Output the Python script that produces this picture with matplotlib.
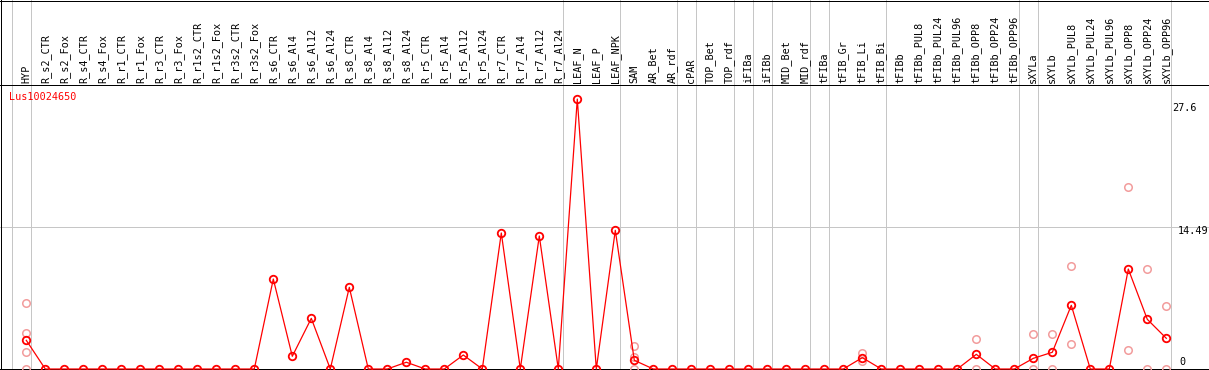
import matplotlib
matplotlib.use("Agg")
import matplotlib.pyplot as plt
from matplotlib.lines import Line2D
import numpy as np

# ---------------- data ----------------
samples = ["HYP", "R_s2_CTR", "R_s2_Fox", "R_s4_CTR", "R_s4_Fox", "R_r1_CTR", "R_r1_Fox",
           "R_r3_CTR", "R_r3_Fox", "R_r1s2_CTR", "R_r1s2_Fox", "R_r3s2_CTR", "R_r3s2_Fox",
           "R_s6_CTR", "R_s6_Al4", "R_s6_Al12", "R_s6_Al24", "R_s8_CTR", "R_s8_Al4",
           "R_s8_Al12", "R_s8_Al24", "R_r5_CTR", "R_r5_Al4", "R_r5_Al12", "R_r5_Al24",
           "R_r7_CTR", "R_r7_Al4", "R_r7_Al12", "R_r7_Al24", "LEAF_N", "LEAF_P", "LEAF_NPK",
           "SAM", "AR_Bet", "AR_rdf", "cPAR", "TOP_Bet", "TOP_rdf", "iFIBa", "iFIBb",
           "MID_Bet", "MID_rdf", "tFIBa", "tFIB_Gr", "tFIB_Li", "tFIB_Bi", "tFIBb",
           "tFIBb_PUL8", "tFIBb_PUL24", "tFIBb_PUL96", "tFIBb_OPP8", "tFIBb_OPP24",
           "tFIBb_OPP96", "sXYLa", "sXYLb", "sXYLb_PUL8", "sXYLb_PUL24", "sXYLb_PUL96",
           "sXYLb_OPP8", "sXYLb_OPP24", "sXYLb_OPP96"]

group_sizes = [1, 28, 3, 3, 1, 2, 1, 1, 2, 1, 3, 7, 1, 7]

mean_expr = [2.93, 0, 0, 0, 0, 0, 0, 0, 0, 0, 0, 0, 0,
             9.20, 1.30, 5.18, 0, 8.35, 0, 0, 0.69, 0, 0, 1.43, 0,
             13.91, 0, 13.60, 0, 27.6, 0, 14.18,
             0.89, 0, 0, 0, 0, 0, 0, 0, 0, 0, 0, 0, 1.16, 0, 0,
             0, 0, 0, 1.50, 0, 0, 1.09, 1.71, 6.51, 0, 0, 10.22, 5.08, 3.14]

rep_samples = ["HYP", "HYP", "HYP", "HYP", "SAM", "SAM", "SAM", "tFIB_Li", "tFIB_Li",
               "tFIBb_OPP8", "tFIBb_OPP8", "sXYLa", "sXYLa", "sXYLb", "sXYLb",
               "sXYLb_PUL8", "sXYLb_PUL8", "sXYLb_OPP8", "sXYLb_OPP8",
               "sXYLb_OPP24", "sXYLb_OPP24", "sXYLb_OPP96", "sXYLb_OPP96"]
rep_values = [6.72, 3.68, 1.71, 0, 2.38, 1.26, 0, 1.64, 0.85,
              3.04, 0, 3.55, 0, 3.55, 0,
              10.50, 2.56, 18.58, 1.91,
              10.22, 0, 6.41, 0]

gene = "Lus10024650"
y_ticks = [27.6, 14.49, 0]
grid_values = [14.49]

# ---------------- layout ----------------
W, H = 1209, 370
DPI = 100
fig = plt.figure(figsize=(W / DPI, H / DPI), dpi=DPI)
fig.patch.set_facecolor("white")

mono = "DejaVu Sans Mono"
fsize = 7.3
grid_col = "#c6c6c6"
red = "#ff0000"
pink = "#f29c9c"
LW = 0.72  # one pixel

header_px = 85
x0_px, step_px = 26.3, 19.0
xlim = (-x0_px / step_px, (W - x0_px) / step_px)
ppu = 9.78  # pixels per unit
data_h = H - header_px
ylim = (-1.0 / ppu, (data_h - 1.0) / ppu)

ax = fig.add_axes([0, 0, 1, data_h / H])
hx = fig.add_axes([0, data_h / H, 1, header_px / H])
for a in (ax, hx):
    a.set_xlim(*xlim)
    a.set_xticks([])
    a.set_yticks([])
    for s in a.spines.values():
        s.set_visible(False)
ax.set_ylim(*ylim)
hx.set_ylim(0, 1)

x = np.arange(len(samples))

# group boundary lines
bounds = np.concatenate([[0], np.cumsum(group_sizes)]) - 1 + 4.3 / step_px
for b in bounds:
    ax.axvline(b, color=grid_col, lw=LW, antialiased=False, zorder=1)
    hx.axvline(b, color=grid_col, lw=LW, antialiased=False, zorder=1)

for g in grid_values:
    ax.axhline(g, color=grid_col, lw=LW, antialiased=False, zorder=1)

# baseline
ax.axhline(0, color="black", lw=LW, antialiased=False, zorder=2)

# replicate points
idx = {s: i for i, s in enumerate(samples)}
rx = [idx[s] for s in rep_samples]
ax.plot(rx, rep_values, linestyle="none", marker="o", ms=5.4, mfc="none",
        mec=pink, mew=1.1, zorder=3, clip_on=False)

# mean line
ax.plot(x, mean_expr, color=red, lw=0.9, marker="o", ms=5.4, mfc="none",
        mec=red, mew=1.3, zorder=4, clip_on=False)

# sample labels
for i, s in enumerate(samples):
    hx.annotate(s, xy=(i, 0), xycoords=("data", "axes fraction"),
                xytext=(0, 2), textcoords="offset pixels",
                rotation=90, ha="center", va="bottom",
                fontfamily=mono, fontsize=fsize, color="black")

# gene label
ax.annotate(gene, xy=(0, 1), xycoords="axes fraction", xytext=(9, -12),
            textcoords="offset pixels", ha="left", va="center",
            fontfamily=mono, fontsize=fsize, color=red)

# y value labels
tick_offsets = {27.6: (1172, -9), 14.49: (1178, -4), 0: (1179, 7)}
for v in y_ticks:
    dx, dy = tick_offsets[v]
    ax.annotate(f"{v:g}", xy=(0, v), xycoords=("axes fraction", "data"),
                xytext=(dx, dy), textcoords="offset pixels",
                ha="left", va="center", fontfamily=mono, fontsize=fsize,
                color="black", annotation_clip=False)

# borders
def fline(xs, ys):
    fig.add_artist(Line2D(xs, ys, transform=fig.transFigure, color="black",
                          lw=LW, antialiased=False))

fline([0, 1], [1 - 0.5 / H, 1 - 0.5 / H])
fline([0.5 / W, 0.5 / W], [0, 1])
fline([0, 1], [(data_h + 0.5) / H, (data_h + 0.5) / H])

fig.savefig("out.png", dpi=DPI, facecolor="white")
